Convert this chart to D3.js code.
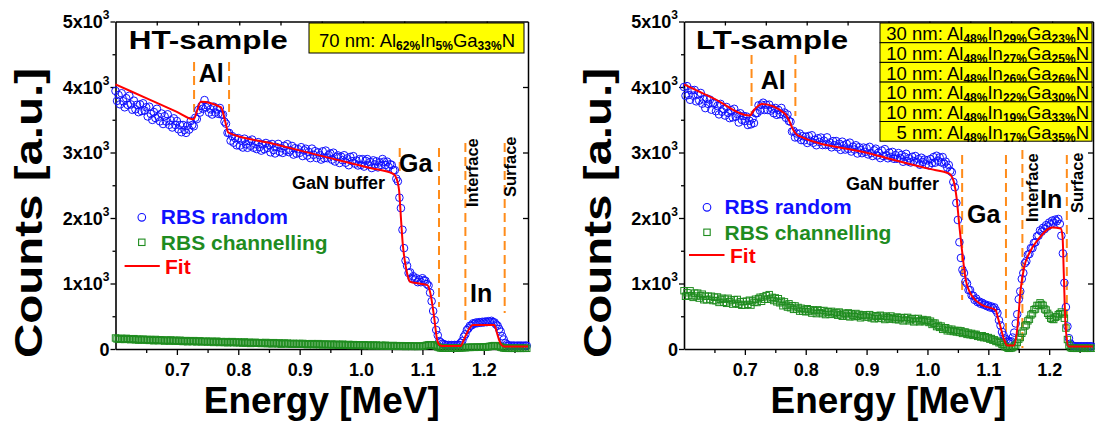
<!DOCTYPE html>
<html>
<head>
<meta charset="utf-8">
<script src="https://cdn.jsdelivr.net/npm/d3@7"></script>
<style>
  body { margin: 0; background: #fff; }
  svg text { font-family: "Liberation Sans", Arial, Helvetica, sans-serif; }
</style>
</head>
<body>
<svg id="chart" width="1095" height="423"></svg>
<script>
// ---- channel energies (MeV), shared by all spectra ----
const energy = [
  0.6000,0.6025,0.6050,0.6075,0.6100,0.6125,0.6150,0.6175,0.6200,0.6225,0.6250,0.6275,0.6300,0.6325,0.6350,0.6375,0.6400,0.6425,0.6450,0.6475,
  0.6500,0.6525,0.6550,0.6575,0.6600,0.6625,0.6650,0.6675,0.6700,0.6725,0.6750,0.6775,0.6800,0.6825,0.6850,0.6875,0.6900,0.6925,0.6950,0.6975,
  0.7000,0.7025,0.7050,0.7075,0.7100,0.7125,0.7150,0.7175,0.7200,0.7225,0.7250,0.7275,0.7300,0.7325,0.7350,0.7375,0.7400,0.7425,0.7450,0.7475,
  0.7500,0.7525,0.7550,0.7575,0.7600,0.7625,0.7650,0.7675,0.7700,0.7725,0.7750,0.7775,0.7800,0.7825,0.7850,0.7875,0.7900,0.7925,0.7950,0.7975,
  0.8000,0.8025,0.8050,0.8075,0.8100,0.8125,0.8150,0.8175,0.8200,0.8225,0.8250,0.8275,0.8300,0.8325,0.8350,0.8375,0.8400,0.8425,0.8450,0.8475,
  0.8500,0.8525,0.8550,0.8575,0.8600,0.8625,0.8650,0.8675,0.8700,0.8725,0.8750,0.8775,0.8800,0.8825,0.8850,0.8875,0.8900,0.8925,0.8950,0.8975,
  0.9000,0.9025,0.9050,0.9075,0.9100,0.9125,0.9150,0.9175,0.9200,0.9225,0.9250,0.9275,0.9300,0.9325,0.9350,0.9375,0.9400,0.9425,0.9450,0.9475,
  0.9500,0.9525,0.9550,0.9575,0.9600,0.9625,0.9650,0.9675,0.9700,0.9725,0.9750,0.9775,0.9800,0.9825,0.9850,0.9875,0.9900,0.9925,0.9950,0.9975,
  1.0000,1.0025,1.0050,1.0075,1.0100,1.0125,1.0150,1.0175,1.0200,1.0225,1.0250,1.0275,1.0300,1.0325,1.0350,1.0375,1.0400,1.0425,1.0450,1.0475,
  1.0500,1.0525,1.0550,1.0575,1.0600,1.0625,1.0650,1.0675,1.0700,1.0725,1.0750,1.0775,1.0800,1.0825,1.0850,1.0875,1.0900,1.0925,1.0950,1.0975,
  1.1000,1.1025,1.1050,1.1075,1.1100,1.1125,1.1150,1.1175,1.1200,1.1225,1.1250,1.1275,1.1300,1.1325,1.1350,1.1375,1.1400,1.1425,1.1450,1.1475,
  1.1500,1.1525,1.1550,1.1575,1.1600,1.1625,1.1650,1.1675,1.1700,1.1725,1.1750,1.1775,1.1800,1.1825,1.1850,1.1875,1.1900,1.1925,1.1950,1.1975,
  1.2000,1.2025,1.2050,1.2075,1.2100,1.2125,1.2150,1.2175,1.2200,1.2225,1.2250,1.2275,1.2300,1.2325,1.2350,1.2375,1.2400,1.2425,1.2450,1.2475,
  1.2500,1.2525,1.2550,1.2575,1.2600,1.2625,1.2650,1.2675,1.2700
];

// ---- HT-sample spectra (counts) ----
const htRandom = [
  3940,3788,3877,3735,3904,3782,3690,3829,3727,3866,3734,3652,3791,3659,3728,3616,3734,3633,3751,3640,
  3690,3550,3699,3589,3498,3618,3527,3667,3546,3476,3595,3435,3554,3474,3583,3423,3492,3382,3521,3421,
  3480,3355,3420,3310,3420,3345,3300,3410,3350,3480,3420,3400,3530,3510,3650,3610,3710,3670,3800,3690,
  3720,3610,3660,3580,3700,3610,3660,3590,3680,3580,3580,3470,3440,3300,3300,3180,3250,3150,3220,3110,
  3220,3105,3181,3076,3211,3126,3072,3177,3102,3197,3073,3128,3053,3158,3084,3029,3124,3049,3145,3070,
  3115,3003,3130,3038,2986,3083,3131,3009,3066,2994,3102,3029,3127,3005,3032,3100,2968,3065,2983,3051,
  2995,3081,2946,3032,3057,2953,3008,2914,3059,2965,3020,2916,3001,2957,2892,3018,2913,3029,2914,2960,
  2985,2891,2997,2863,2929,2955,2840,2936,2882,2958,2844,2910,2806,2932,2868,2944,2830,2876,2802,2898,
  2810,2898,2785,2873,2900,2808,2855,2763,2880,2818,2865,2773,2850,2810,2900,2860,2810,2860,2780,2820,
  2810,2730,2730,2600,2560,2310,2150,1820,1540,1350,1270,1160,1170,1080,1110,1060,1080,1020,1060,1020,
  1080,1050,1040,990,970,860,730,580,440,290,210,120,100,80,75,62,58,62,55,60,
  58,62,57,64,63,95,125,188,225,290,315,355,360,392,385,405,395,410,400,415,
  405,420,410,425,415,430,410,405,375,355,305,265,195,145,90,72,52,53,48,52,
  50,48,52,49,51,50,48,52,50
];
const htChannel = [
  168,153,162,147,162,153,146,163,148,157,142,151,158,141,150,135,150,139,150,139,
  136,147,131,144,139,126,146,133,128,141,129,136,121,136,132,121,138,123,133,120,
  131,118,134,119,114,126,129,111,122,125,113,128,116,109,120,124,109,117,110,119,
  106,119,109,116,100,113,119,104,99,113,108,100,113,95,108,102,113,96,106,97,
  108,95,103,90,108,91,99,102,85,99,92,102,87,95,98,84,95,86,100,83,
  84,94,79,97,84,90,79,93,74,86,89,79,90,76,83,73,86,78,83,73,
  84,72,85,73,78,66,81,73,82,66,77,69,82,66,73,63,76,74,63,71,
  64,76,61,69,72,58,69,63,74,58,65,59,70,54,65,67,54,62,55,65,
  62,52,65,55,50,62,57,47,60,50,61,51,46,56,53,45,58,46,51,47,
  44,54,45,51,40,48,51,41,47,38,48,42,49,39,45,40,46,38,44,42,
  42,48,52,58,62,66,60,64,55,45,32,22,16,14,12,13,11,14,12,13,
  12,14,13,15,17,18,20,22,21,24,25,24,26,27,25,28,26,29,27,28,
  30,31,33,36,40,44,48,52,50,44,38,30,22,16,13,11,10,12,10,11,
  10,12,10,11,9,11,10,12,10
];
const htFitE = [0.600,0.650,0.700,0.727,0.739,0.772,0.778,0.784,0.850,0.950,1.015,1.053,1.058,1.062,1.065,1.068,1.072,1.076,1.080,1.095,1.108,1.113,1.119,1.124,1.128,1.132,1.162,1.167,1.171,1.177,1.182,1.200,1.217,1.221,1.225,1.229,1.233,1.272];
const htFitC = [4040,3830,3620,3506,3776,3689,3500,3302,3148,2914,2762,2672,2600,2423,2000,1600,1306,1120,1026,1000,975,849,492,137,60,45,45,130,213,320,366,368,366,260,137,60,40,40];

// ---- LT-sample spectra (counts) ----
const ltRandom = [
  4000,3866,4013,3879,3805,3952,3868,3954,3781,3887,3793,3909,3746,3812,3678,3825,3741,3807,3654,3750,
  3760,3631,3711,3582,3742,3623,3663,3564,3694,3605,3525,3646,3536,3667,3547,3588,3458,3599,3499,3560,
  3480,3550,3420,3485,3430,3520,3450,3600,3600,3720,3640,3730,3760,3650,3730,3650,3730,3640,3670,3600,
  3680,3575,3650,3585,3680,3580,3610,3530,3580,3480,3470,3320,3330,3230,3290,3230,3290,3190,3250,3185,
  3240,3146,3252,3177,3263,3149,3195,3111,3216,3162,3228,3114,3180,3115,3231,3117,3153,3079,3174,3110,
  3175,3080,3135,3040,3165,3110,3045,3130,3055,3150,3015,3090,3045,3110,2985,3080,3035,2990,3075,3010,
  3065,2971,3086,2992,2947,3033,3058,2954,2999,2915,3030,2946,3051,2957,2912,2998,2933,3009,2904,2960,
  2905,2991,2917,2963,2859,2935,2980,2866,2912,2848,2934,2870,2946,2852,2898,2814,2920,2856,2892,2818,
  2880,2805,2900,2840,2930,2845,2950,2875,2925,2850,2930,2830,2860,2770,2810,2720,2700,2550,2470,2230,
  1970,1630,1390,1210,1160,1030,1000,900,900,820,815,750,770,715,725,690,705,675,680,655,
  665,635,650,625,635,590,550,440,360,260,210,160,145,115,112,118,175,250,390,530,
  760,880,1070,1160,1310,1340,1440,1450,1540,1540,1620,1630,1720,1730,1810,1790,1850,1830,1890,1870,
  1930,1905,1960,1930,1975,1950,1985,1910,1730,1460,1010,640,345,165,82,55,46,42,41,40,
  40,42,39,41,40,42,40,41,40
];
const ltChannel = [
  890,805,859,814,889,814,788,853,808,853,777,812,837,752,806,751,806,761,805,740,
  790,737,794,711,758,776,713,760,697,774,721,748,685,752,699,757,684,721,668,725,
  670,730,682,745,670,735,712,760,710,770,790,728,795,760,815,760,830,765,788,740,
  780,720,768,705,732,660,720,670,640,690,630,662,605,658,610,634,578,622,577,602,
  568,615,573,600,548,595,583,540,598,555,583,540,588,525,563,570,528,575,533,550,
  558,516,564,522,500,548,536,504,552,490,538,516,494,542,500,528,476,514,522,490,
  518,487,525,474,502,461,509,498,466,515,473,502,450,499,477,456,504,463,481,450,
  488,446,474,481,429,477,445,483,430,458,466,414,461,429,467,415,433,450,418,436,
  442,405,425,375,395,395,342,360,330,350,300,322,325,278,302,277,302,267,283,260,
  283,253,278,238,258,258,223,243,218,238,208,223,223,193,203,183,203,173,188,168,
  175,150,160,135,140,115,120,95,100,70,65,35,28,12,10,15,22,45,58,100,
  150,175,240,275,350,370,430,455,520,540,600,610,665,665,705,680,665,610,595,545,
  515,470,455,450,485,495,525,540,565,535,470,320,145,58,22,12,10,12,10,11,
  12,10,11,10,12,10,11,10,12
];
const ltFitE = [0.600,0.650,0.708,0.716,0.728,0.766,0.773,0.780,0.787,0.900,1.003,1.036,1.040,1.044,1.048,1.052,1.058,1.063,1.068,1.074,1.090,1.112,1.116,1.120,1.126,1.131,1.142,1.148,1.153,1.159,1.167,1.183,1.205,1.219,1.222,1.224,1.227,1.232,1.272];
const ltFitC = [4040,3820,3566,3660,3740,3592,3480,3337,3261,2995,2750,2677,2630,2530,2300,1920,1407,1052,900,797,670,594,470,340,137,55,55,340,900,1254,1458,1687,1855,1840,1712,1154,340,40,40];

// ---- edge markers (MeV): Al pair, Ga pair, interface, surface ----
const htEdges = [0.728, 0.785, 1.063, 1.127, 1.170, 1.234];
const ltEdges = [0.711, 0.783, 1.057, 1.129, 1.156, 1.229];

// ---- layer stacks: thickness (nm), Al %, In %, Ga % ----
const htLayers = [["70", "62", "5", "33"]];
const ltLayers = [
  ["30", "48", "29", "23"],
  ["10", "48", "27", "25"],
  ["10", "48", "26", "26"],
  ["10", "48", "22", "30"],
  ["10", "48", "19", "33"],
  ["5",  "48", "17", "35"]
];

// ---- axes ----
const xDomain = [0.6, 1.272];
const yDomain = [0, 5000];
const xMajorTicks = [0.7, 0.8, 0.9, 1.0, 1.1, 1.2];
const xMinorTicks = [0.65, 0.75, 0.85, 0.95, 1.05, 1.15, 1.25];
const yMajorTicks = [0, 1000, 2000, 3000, 4000, 5000];
const yMinorTicks = [500, 1500, 2500, 3500, 4500];
const yTickMantissa = ["0", "1", "2", "3", "4", "5"];

const COLORS = { random: "#1010ff", channel: "#1f8c1f", fit: "#ff0000", edge: "#ff8c1a", box: "#ffff00" };
const TOP = 21.5, BOTTOM = 349;

const panels = [
  {
    left: 115.5, right: 528,
    random: htRandom, channel: htChannel, fitE: htFitE, fitC: htFitC,
    edges: htEdges,
    edgeSpans: [[62, 112], [62, 112], [148, 175], [148, 307], [143, 320], [143, 313]],
    title: "HT-sample", titleX: 128.7, titleLen: 159,
    labels: { Al: [198.7, 82], Ga: [399, 172], In: [470, 302] },
    buffer: [292, 189],
    iface: [478, 207], surf: [516, 197],
    layers: htLayers, box: { x: 309, y: 23, w: 215, rowH: 30, textEnd: 515, base: 23.5 },
    legend: { mx: 141.8, r1: 217.3, r2: 242.3, fitY: 266, lineX: [124.6, 159.8], tx: 160.8, fitTx: 165 },
    countsX: 42
  },
  {
    left: 684, right: 1093,
    random: ltRandom, channel: ltChannel, fitE: ltFitE, fitC: ltFitC,
    edges: ltEdges,
    edgeSpans: [[55, 116], [55, 116], [155, 300], [155, 347], [150, 348], [155, 347]],
    title: "LT-sample", titleX: 696, titleLen: 152,
    labels: { Al: [760.7, 89], Ga: [967, 223], In: [1040, 208] },
    buffer: [846, 190],
    iface: [1038, 222], surf: [1083, 213],
    layers: ltLayers, box: { x: 880, y: 23, w: 212, rowH: 19.7, textEnd: 1089, base: 17.3 },
    legend: { mx: 707, r1: 207.3, r2: 232.3, fitY: 255, lineX: [689, 724.5], tx: 724.5, fitTx: 730 },
    countsX: 611
  }
];

const svg = d3.select("#chart");

function styleAxis(g, width) {
  g.select(".domain").attr("stroke", "#000").attr("stroke-width", width);
  g.selectAll(".tick line").attr("stroke", "#000").attr("stroke-width", 1.3);
  g.selectAll(".tick text").attr("fill", "#000").attr("font-size", 18).attr("font-weight", "bold")
    .attr("font-family", '"Liberation Sans", Arial, sans-serif');
}

function appendFormula(text, layer) {
  const [thick, al, inn, ga] = layer;
  const sub = (s) => text.append("tspan").attr("font-size", 12).attr("font-weight", "bold").attr("dy", 3).text(s);
  const main = (s, dy) => text.append("tspan").attr("dy", dy).text(s);
  main(`${thick} nm: Al`, 0);
  sub(al + "%"); main("In", -3);
  sub(inn + "%"); main("Ga", -3);
  sub(ga + "%"); main("N", -3);
}

panels.forEach(p => {
  const x = d3.scaleLinear().domain(xDomain).range([p.left, p.right]);
  const y = d3.scaleLinear().domain(yDomain).range([BOTTOM, TOP]);
  const g = svg.append("g");

  // top frame with evenly spaced inward ticks
  const topScale = d3.scaleLinear().domain([0, 10]).range([p.left, p.right]);
  g.append("g").attr("transform", `translate(0,${TOP})`)
    .call(d3.axisBottom(topScale).tickValues(d3.range(1, 10)).tickSize(4).tickSizeOuter(0).tickFormat(""))
    .call(a => styleAxis(a, 1.5));
  // right frame with inward ticks
  g.append("g").attr("transform", `translate(${p.right},0)`)
    .call(d3.axisLeft(y).tickValues(yMajorTicks.slice(1, 5)).tickSize(5).tickSizeOuter(0).tickFormat(""))
    .call(a => styleAxis(a, 1.5));

  // bottom axis
  g.append("g").attr("transform", `translate(0,${BOTTOM})`)
    .call(d3.axisBottom(x).tickValues(xMinorTicks).tickSize(4).tickSizeOuter(0).tickFormat(""))
    .call(a => { styleAxis(a, 1.5); a.select(".domain").remove(); });
  g.append("g").attr("transform", `translate(0,${BOTTOM})`)
    .call(d3.axisBottom(x).tickValues(xMajorTicks).tickSize(6).tickSizeOuter(0).tickPadding(8).tickFormat(d3.format(".1f")))
    .call(a => styleAxis(a, 1.6));

  // left axis
  g.append("g").attr("transform", `translate(${p.left},0)`)
    .call(d3.axisLeft(y).tickValues(yMinorTicks).tickSize(3).tickSizeOuter(0).tickFormat(""))
    .call(a => { styleAxis(a, 1.5); a.select(".domain").remove(); });
  g.append("g").attr("transform", `translate(${p.left},0)`)
    .call(d3.axisLeft(y).tickValues(yMajorTicks).tickSize(5).tickSizeOuter(0).tickFormat(""))
    .call(a => styleAxis(a, 1.6));
  yMajorTicks.forEach((v, i) => {
    const t = g.append("text").attr("x", p.left - 6).attr("y", y(v) + 6.5)
      .attr("text-anchor", "end").attr("font-size", 18).attr("font-weight", "bold").attr("fill", "#000");
    if (v === 0) { t.text(yTickMantissa[i]); }
    else {
      t.append("tspan").text(yTickMantissa[i] + "x10");
      t.append("tspan").attr("font-size", 12).attr("dy", -9).text("3");
    }
  });

  // edge markers
  p.edges.forEach((e, i) => {
    g.append("line").attr("x1", x(e)).attr("x2", x(e))
      .attr("y1", p.edgeSpans[i][0]).attr("y2", p.edgeSpans[i][1])
      .attr("stroke", COLORS.edge).attr("stroke-width", 2).attr("stroke-dasharray", "9,5");
  });

  // random spectrum (open circles)
  g.append("g").selectAll("circle").data(energy.map((e, i) => [e, p.random[i]])).join("circle")
    .attr("cx", d => x(d[0])).attr("cy", d => y(d[1])).attr("r", 3.8)
    .attr("fill", "none").attr("stroke", COLORS.random).attr("stroke-width", 1);

  // channelling spectrum (open squares)
  g.append("g").selectAll("rect").data(energy.map((e, i) => [e, p.channel[i]])).join("rect")
    .attr("x", d => x(d[0]) - 3.2).attr("y", d => y(d[1]) - 3.2).attr("width", 6.4).attr("height", 6.4)
    .attr("fill", "none").attr("stroke", COLORS.channel).attr("stroke-width", 1);

  // simulation fit
  const line = d3.line().x(d => x(d[0])).y(d => y(d[1])).curve(d3.curveMonotoneX);
  g.append("path").datum(p.fitE.map((e, i) => [e, p.fitC[i]]))
    .attr("d", line).attr("fill", "none").attr("stroke", COLORS.fit).attr("stroke-width", 2);

  // labels
  g.append("text").attr("x", p.titleX).attr("y", 49).attr("font-size", 26).attr("font-weight", "bold")
    .attr("textLength", p.titleLen).attr("lengthAdjust", "spacingAndGlyphs").text(p.title);
  Object.entries(p.labels).forEach(([k, pos]) => {
    g.append("text").attr("x", pos[0]).attr("y", pos[1]).attr("font-size", 25).attr("font-weight", "bold").text(k);
  });
  g.append("text").attr("x", p.buffer[0]).attr("y", p.buffer[1]).attr("font-size", 18).attr("font-weight", "bold").text("GaN buffer");
  g.append("text").attr("transform", `translate(${p.iface[0]},${p.iface[1]}) rotate(-90)`)
    .attr("font-size", 16.5).attr("font-weight", "bold").text("Interface");
  g.append("text").attr("transform", `translate(${p.surf[0]},${p.surf[1]}) rotate(-90)`)
    .attr("font-size", 16.5).attr("font-weight", "bold").text("Surface");

  // layer box
  p.layers.forEach((layer, i) => {
    const top = p.box.y + i * p.box.rowH;
    g.append("rect").attr("x", p.box.x).attr("y", top).attr("width", p.box.w).attr("height", p.box.rowH)
      .attr("fill", COLORS.box).attr("stroke", "#000").attr("stroke-width", 1);
    const t = g.append("text").attr("x", p.box.textEnd).attr("y", top + p.box.base)
      .attr("text-anchor", "end").attr("font-size", 18.5).attr("fill", "#000");
    appendFormula(t, layer);
  });

  // legend
  const L = p.legend;
  g.append("circle").attr("cx", L.mx).attr("cy", L.r1).attr("r", 3.8)
    .attr("fill", "none").attr("stroke", COLORS.random).attr("stroke-width", 1.1);
  g.append("text").attr("x", L.tx).attr("y", L.r1 + 7).attr("font-size", 21).attr("font-weight", "bold")
    .attr("fill", COLORS.random).text("RBS random");
  g.append("rect").attr("x", L.mx - 3.2).attr("y", L.r2 - 3.2).attr("width", 6.4).attr("height", 6.4)
    .attr("fill", "none").attr("stroke", COLORS.channel).attr("stroke-width", 1.1);
  g.append("text").attr("x", L.tx).attr("y", L.r2 + 7.5).attr("font-size", 21).attr("font-weight", "bold")
    .attr("fill", COLORS.channel).text("RBS channelling");
  g.append("line").attr("x1", L.lineX[0]).attr("x2", L.lineX[1]).attr("y1", L.fitY).attr("y2", L.fitY)
    .attr("stroke", COLORS.fit).attr("stroke-width", 2);
  g.append("text").attr("x", L.fitTx).attr("y", L.fitY + 7.5).attr("font-size", 21).attr("font-weight", "bold")
    .attr("fill", COLORS.fit).text("Fit");

  // axis titles
  g.append("text").attr("x", (p.left + p.right) / 2).attr("y", 413).attr("text-anchor", "middle")
    .attr("font-size", 36).attr("font-weight", "bold").attr("textLength", 236).attr("lengthAdjust", "spacingAndGlyphs")
    .text("Energy [MeV]");
  g.append("text").attr("transform", `translate(${p.countsX},213) rotate(-90)`).attr("text-anchor", "middle")
    .attr("font-size", 39).attr("font-weight", "bold").attr("textLength", 290).attr("lengthAdjust", "spacingAndGlyphs")
    .text("Counts [a.u.]");
});
</script>
</body>
</html>
